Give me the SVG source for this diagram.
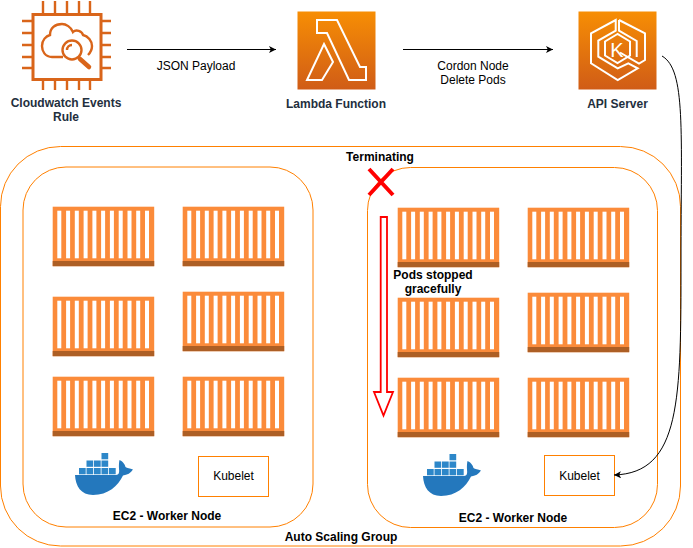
<svg xmlns="http://www.w3.org/2000/svg" width="693" height="548" viewBox="0 0 693 548">
<style>
text{font-family:"Liberation Sans",Arial,sans-serif;font-size:12px;fill:#000;text-anchor:middle}
.b{font-weight:bold}
.dk{fill:#232f3e;font-weight:bold}
.grp{fill:none;stroke:#ff8000;stroke-width:1}
.ln{fill:none;stroke:#000;stroke-width:1}
.ic{fill:none;stroke:#fff;stroke-width:2}
.cw{fill:none;stroke:#d9651a;stroke-width:2.4}
.box{fill:#fff;stroke:#ff8000;stroke-width:1}
</style>
<defs>
<linearGradient id="aws" x1="0" y1="0" x2="0" y2="1"><stop offset="0" stop-color="#f78e04"/><stop offset="1" stop-color="#d05c17"/></linearGradient>
<marker id="ah" markerWidth="8" markerHeight="8" refX="7" refY="3.5" orient="auto" markerUnits="userSpaceOnUse"><path d="M0 0L7 3.5L0 7L1.8 3.5Z" fill="#000"/></marker>
<g id="pod">
<rect x="0" y="0" width="101.5" height="59.5" fill="#fb8b3a"/>
<rect x="0" y="54.3" width="101.5" height="5.2" fill="#ad5f25"/>
<g fill="#fff"><rect x="4.6" y="4" width="4" height="47.6"/><rect x="13.4" y="4" width="4" height="47.6"/><rect x="22.1" y="4" width="4" height="47.6"/><rect x="30.9" y="4" width="4" height="47.6"/><rect x="39.7" y="4" width="4" height="47.6"/><rect x="48.4" y="4" width="4" height="47.6"/><rect x="57.2" y="4" width="4" height="47.6"/><rect x="66" y="4" width="4" height="47.6"/><rect x="74.8" y="4" width="4" height="47.6"/><rect x="83.5" y="4" width="4" height="47.6"/><rect x="92.3" y="4" width="4" height="47.6"/></g>
</g>
<g id="whale">
<path d="M0 20H41C44 20 44.500 17 44 14C43.800 10 44 7 44.500 5C47 6 50 9 50.500 12C52 13.500 55 13 58 14.500C56 18 52 20 48 20.500C43 31 33 40 18 40C6 40 .5 31 0 20Z" fill="#2478bd"/>
<g fill="#2d87c9"><rect x="4" y="13" width="6.700" height="6.300"/><rect x="11.500" y="13" width="6.700" height="6.300"/><rect x="19" y="13" width="6.700" height="6.300"/><rect x="26.500" y="13" width="6.700" height="6.300"/><rect x="34" y="13" width="6.700" height="6.300"/><rect x="11.500" y="5.500" width="6.700" height="6.300"/><rect x="19" y="5.500" width="6.700" height="6.300"/><rect x="26.500" y="5.500" width="6.700" height="6.300"/><rect x="26.500" y="-2" width="6.700" height="6.300"/></g>
</g>
</defs>

<g id="asg"><rect class="grp" x="0.500" y="146.500" width="680" height="399.500" rx="60" ry="60"/><text class="b" x="341" y="541">Auto Scaling Group</text><text class="b" x="380" y="161">Terminating</text></g>

<g id="node-left"><rect class="grp" x="23" y="167" width="290" height="360" rx="43" ry="43"/><text class="b" x="167" y="520">EC2 - Worker Node</text>
<use href="#pod" x="52.700" y="206.700"/><use href="#pod" x="182.700" y="206.700"/><use href="#pod" x="52.700" y="296.700"/><use href="#pod" x="182.700" y="291.700"/><use href="#pod" x="52.700" y="376.700"/><use href="#pod" x="182.700" y="376.700"/>
<use href="#whale" x="75" y="455"/>
<g id="kubelet-left"><rect class="box" x="198.500" y="456.500" width="70" height="40"/><text x="233.500" y="480">Kubelet</text></g>
</g>

<g id="node-right"><rect class="grp" x="367.500" y="167.500" width="290" height="360" rx="43" ry="43"/><text class="b" x="513" y="522">EC2 - Worker Node</text>
<use href="#pod" x="397.700" y="207.700"/><use href="#pod" x="527.700" y="207.700"/><use href="#pod" x="397.700" y="297.700"/><use href="#pod" x="527.700" y="292.700"/><use href="#pod" x="397.700" y="377.700"/><use href="#pod" x="527.700" y="377.700"/>
<use href="#whale" x="423" y="456"/>
<g id="kubelet-right"><rect class="box" x="544.500" y="455.500" width="70" height="40"/><text x="579.500" y="480">Kubelet</text></g>
</g>

<g id="connectors">
<path class="ln" marker-end="url(#ah)" d="M127 49.500H276"/>
<path class="ln" marker-end="url(#ah)" d="M403 49.500H553"/>
<path class="ln" marker-end="url(#ah)" d="M662 56C686 70 681 130 681 260C681 400 681 473 614 475"/>
</g>

<g id="cloudwatch-rule">
<rect x="33" y="14.500" width="68" height="65" fill="#fff" stroke="#d9651a" stroke-width="3"/>
<path class="cw" d="M33 21H22M33 33H22M33 45H22M33 57H22M33 68H22M101 21H111M101 33H111M101 45H111M101 57H111M101 68H111M43 13V1M55 13V1M67 13V1M79 13V1M90 13V1M43 81V90M55 81V90M67 81V90M79 81V90M90 81V90"/>
<path class="cw" d="M63 57H52C45 57 42 51 42 46C42 40 46 36 50 35C50 28 55 24 62 24C66 24 71 27 73 32C76 29 82 31 83 35C88 36 92 41 92 46C92 50 90 53 88 55"/>
<circle class="cw" cx="72" cy="50" r="9.500"/>
<path class="cw" d="M72 45A5 5 0 0 0 67 50"/>
<path fill="none" stroke="#d9651a" stroke-width="4.500" stroke-linecap="round" d="M80 59L89 67"/>
<text class="dk" x="66" y="107">Cloudwatch Events</text><text class="dk" x="66" y="120.500">Rule</text>
</g>

<g id="lambda">
<rect x="297.500" y="11.500" width="78" height="78" fill="url(#aws)"/>
<path class="ic" d="M317 20H337L360 67H366V80H349L327 33H317Z"/>
<path class="ic" d="M324 44L333 62L322 80H307Z"/>
<text class="dk" x="336" y="108">Lambda Function</text>
</g>

<g id="api-server">
<rect x="578.500" y="11.500" width="78" height="78" fill="url(#aws)"/>
<path class="ic" d="M615.700 20V30.700L598.300 40.700V56.700L617.700 68.300L628.300 63.300L637.700 68.300L617.700 80L591 63.300V33.300Z"/>
<path class="ic" d="M619 20L645 33.300V60L639 63.500L620 52.500M619 20V30.700L636.700 41V57"/>
<path class="ic" d="M617.500 34L605 41.500V55.500L617.500 63L630 55.500V41.500Z"/>
<text x="617" y="56.500" style="font-size:20px;fill:#fff;font-weight:normal">K</text>
<text class="dk" x="617.500" y="108">API Server</text>
</g>

<g id="labels">
<text x="196" y="70">JSON Payload</text>
<text x="473" y="70">Cordon Node</text><text x="473" y="84">Delete Pods</text>
<text class="b" x="433" y="279">Pods stopped</text><text class="b" x="433" y="293">gracefully</text>
</g>

<g id="terminated"><path d="M369 169L393 195M393 169L369 195" fill="none" stroke="#f00" stroke-width="4"/></g>
<g id="stop-arrow"><path d="M380.700 217H387V392H393L383.500 415.500L374 392H380.700Z" fill="#fff" stroke="#f00" stroke-width="1.800"/></g>
</svg>
